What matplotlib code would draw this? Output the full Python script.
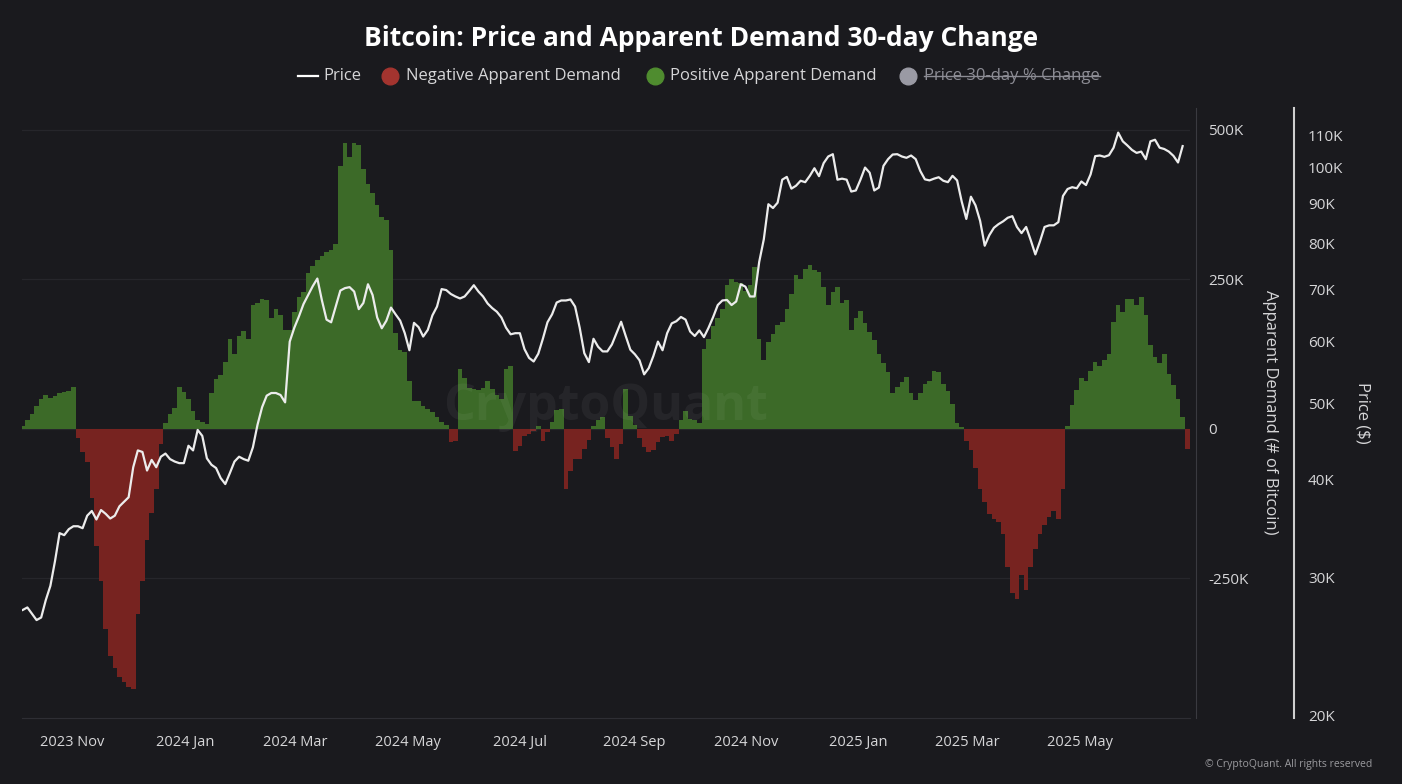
import numpy as np
import pandas as pd
import matplotlib
matplotlib.use('Agg')
import matplotlib.pyplot as plt
from matplotlib.lines import Line2D
from matplotlib.ticker import NullLocator
import matplotlib.dates as mdates

plt.rcParams['font.family'] = ['Open Sans', 'DejaVu Sans']

# ---- data, every 2.5 days from 2023-10-05 ----
start_date = '2023-10-05'
# BTC price, $K
price_k = [27.3, 27.5, 27.0, 26.5, 26.7, 28.1, 29.3, 31.5, 34.2, 34.0,
           34.6, 34.9, 34.9, 34.7, 36.0, 36.5, 35.6, 36.6, 36.2, 35.7,
           36.0, 37.0, 37.5, 38.0, 41.5, 43.6, 43.4, 41.1, 42.4, 41.5,
           42.8, 43.2, 42.5, 42.2, 42.0, 42.0, 44.2, 43.6, 46.3, 45.5,
           42.6, 41.8, 41.4, 40.2, 39.5, 40.8, 42.2, 42.8, 42.5, 42.3,
           44.0, 47.0, 49.5, 51.2, 51.6, 51.6, 51.3, 50.2, 60.0, 62.5,
           64.6, 67.0, 68.8, 70.6, 72.2, 67.7, 64.0, 63.5, 66.5, 69.7,
           70.2, 70.4, 69.5, 66.0, 67.2, 71.0, 68.8, 64.4, 62.4, 63.8,
           66.3, 65.0, 63.8, 61.5, 58.5, 63.4, 62.6, 60.9, 62.1, 64.8,
           66.5, 70.0, 69.8, 69.0, 68.5, 68.1, 68.5, 69.6, 70.8, 69.5,
           68.5, 67.1, 66.2, 65.5, 64.4, 62.5, 61.3, 61.5, 61.5, 58.7,
           57.2, 56.6, 57.9, 60.5, 63.5, 65.0, 67.3, 67.7, 67.7, 67.9,
           66.5, 62.5, 58.0, 56.5, 60.5, 59.1, 58.3, 58.3, 59.5, 61.5,
           63.6, 61.0, 58.6, 57.8, 56.8, 54.5, 55.5, 57.5, 60.0, 58.5,
           61.5, 63.3, 63.7, 64.5, 64.0, 61.8, 61.0, 62.0, 60.8, 62.5,
           64.5, 66.8, 67.7, 67.8, 66.8, 67.5, 71.0, 70.5, 68.5, 68.5,
           75.8, 81.0, 89.8, 88.8, 90.2, 96.5, 97.3, 94.0, 94.8, 96.2,
           95.8, 97.6, 99.8, 97.5, 101.3, 103.3, 104.0, 96.5, 96.8, 96.5,
           93.2, 93.5, 96.5, 100.0, 98.5, 93.5, 94.3, 100.5, 102.5, 103.9,
           104.0, 103.3, 102.9, 103.6, 102.5, 99.0, 96.6, 96.3, 96.8, 97.2,
           96.2, 95.8, 97.6, 96.3, 90.5, 86.0, 91.8, 89.5, 85.5, 79.5,
           82.0, 83.8, 84.7, 85.4, 86.3, 86.7, 84.0, 82.5, 84.0, 80.8,
           77.5, 80.5, 84.0, 84.4, 84.4, 85.2, 92.0, 93.9, 94.4, 94.1,
           96.0, 95.0, 98.0, 103.4, 103.6, 103.2, 103.7, 106.0, 110.8, 108.0,
           106.7, 105.3, 104.4, 104.8, 102.5, 108.0, 108.5, 106.0, 105.6, 104.8,
           103.5, 101.5, 106.5]
# apparent demand 30-day change, K BTC
demand_k = [5, 15, 25, 38, 50, 57, 52, 55, 60, 62,
            64, 70, -15, -38, -55, -115, -195, -255, -335, -380,
            -400, -414, -423, -432, -435, -310, -255, -185, -140, -100,
            -25, 10, 25, 35, 70, 61, 50, 30, 15, 12,
            9, 60, 84, 90, 112, 150, 125, 155, 163, 150,
            207, 210, 218, 215, 186, 200, 190, 165, 165, 195,
            220, 229, 260, 272, 282, 289, 296, 300, 310, 440,
            478, 455, 478, 475, 435, 410, 395, 375, 355, 350,
            300, 160, 132, 128, 80, 47, 46, 38, 33, 28,
            20, 11, 7, -22, -20, 100, 85, 69, 66, 65,
            68, 80, 67, 56, 50, 100, 105, -37, -28, -11,
            -8, -3, 5, -20, -5, 11, 32, 34, -100, -70,
            -51, -51, -34, -18, 5, 15, 20, -15, -30, -50,
            -25, 67, 22, 6, -15, -30, -38, -35, -22, -14,
            -11, -20, -8, 15, 30, 16, 15, 10, 134, 150,
            172, 185, 200, 240, 250, 245, 244, 230, 240, 270,
            150, 115, 145, 158, 174, 179, 200, 225, 257, 251,
            268, 274, 266, 262, 238, 207, 229, 238, 210, 215,
            165, 185, 198, 178, 162, 148, 125, 110, 95, 60,
            70, 78, 87, 60, 48, 60, 75, 80, 97, 95,
            76, 63, 42, 10, 4, -20, -36, -65, -101, -122,
            -143, -150, -155, -175, -230, -274, -285, -245, -270, -230,
            -200, -175, -160, -147, -137, -150, -100, 5, 40, 65,
            85, 80, 97, 112, 106, 115, 125, 179, 207, 195,
            218, 218, 208, 220, 190, 140, 120, 110, 125, 92,
            73, 50, 20, -34]
demand_ticks = [-250, 0, 250, 500]
demand_labels = ['-250K', '0', '250K', '500K']
price_ticks = [20, 30, 40, 50, 60, 70, 80, 90, 100, 110]

price_dates = pd.date_range(start_date, periods=len(price_k), freq='60h')
demand_dates = pd.date_range(start_date, periods=len(demand_k), freq='60h')

bg = '#1a1a1e'
txt = '#d6d6d8'
green = '#3c6a28'
red = '#772320'
W, H = 1402, 784

fig = plt.figure(figsize=(W / 100, H / 100), dpi=100, facecolor=bg)
ax = fig.add_axes([22 / W, 1 - 718 / H, (1190 - 22) / W, (718 - 108) / H])
ax.set_facecolor(bg)

cols = [green if v >= 0 else red for v in demand_k]
ax.bar(demand_dates, demand_k, width=2.5, color=cols, linewidth=0, zorder=2)

ax.set_ylim(-483.3, 536.7)
ax.set_xlim(pd.Timestamp('2023-10-04 14:00'), pd.Timestamp('2025-06-30'))
for v in demand_ticks:
    ax.axhline(v, color='#26262b', lw=0.9, zorder=1)

ax.xaxis.set_major_locator(mdates.MonthLocator(bymonth=[1, 3, 5, 7, 9, 11]))
ax.xaxis.set_major_formatter(mdates.DateFormatter('%Y %b'))
ax.tick_params(axis='x', length=0, pad=12, labelcolor=txt, labelsize=10.5)

# price on log axis
ax2 = ax.twinx()
ax2.plot(price_dates, price_k, color='#ececec', lw=1.6, zorder=3)
ax2.set_yscale('log')
ax2.set_ylim(19.88, 119.1)
ax2.yaxis.set_minor_locator(NullLocator())
ax2.set_yticks(price_ticks)
ax2.set_yticklabels([f'{v}K' for v in price_ticks])
ax2.tick_params(axis='y', length=0, pad=10, labelcolor=txt, labelsize=11)
ax2.spines['right'].set_position(('axes', (1294 - 22) / (1190 - 22)))
ax2.spines['right'].set_color('#cfcfcf')
ax2.spines['right'].set_linewidth(1.5)
for s in ['left', 'top', 'bottom']:
    ax2.spines[s].set_visible(False)

# demand ticks on the right (after twinx, which moves them left)
ax.yaxis.tick_right()
ax.set_yticks(demand_ticks)
ax.set_yticklabels(demand_labels)
ax.tick_params(axis='y', length=0, pad=9, labelcolor=txt, labelsize=11)
ax.spines['right'].set_position(('axes', (1196 - 22) / (1190 - 22)))
ax.spines['right'].set_color('#3a3a40')
ax.spines['bottom'].set_color('#2e2e34')
ax.spines['left'].set_visible(False)
ax.spines['top'].set_visible(False)

ax2.text(0.5, 0.51, 'CryptoQuant', transform=ax2.transAxes, fontsize=36,
         color='white', alpha=0.05, ha='center', va='center', fontweight='bold')

fig.text(1270 / W, 1 - 412 / H, 'Apparent Demand (# of Bitcoin)', rotation=270,
         ha='center', va='center', color=txt, fontsize=12)
fig.text(1362 / W, 1 - 413 / H, 'Price ($)', rotation=270,
         ha='center', va='center', color=txt, fontsize=12)

fig.text(701 / W, 1 - 38 / H, 'Bitcoin: Price and Apparent Demand 30-day Change',
         ha='center', va='center', color='white', fontsize=19, fontweight='bold')

# legend row
ly = 1 - 76 / H
fig.add_artist(Line2D([298 / W, 318 / W], [ly, ly], color='white', lw=1.6,
                      transform=fig.transFigure))
fig.text(323 / W, ly, 'Price', color=txt, fontsize=12, va='center')
fig.add_artist(Line2D([390 / W], [ly], marker='o', ms=12, color='#a3342f', lw=0,
                      transform=fig.transFigure))
fig.text(406 / W, ly, 'Negative Apparent Demand', color=txt, fontsize=12, va='center')
fig.add_artist(Line2D([655 / W], [ly], marker='o', ms=12, color='#4f8c2f', lw=0,
                      transform=fig.transFigure))
fig.text(670 / W, ly, 'Positive Apparent Demand', color=txt, fontsize=12, va='center')
fig.add_artist(Line2D([908 / W], [ly], marker='o', ms=12, color='#9a9aa4', lw=0,
                      transform=fig.transFigure))
t_off = fig.text(924 / W, ly, 'Price 30-day % Change', color='#8c8c94', fontsize=12, va='center')

fig.text(1372 / W, 1 - 765 / H, '© CryptoQuant. All rights reserved', ha='right',
         va='center', color='#9a9a9e', fontsize=7.5)

fig.canvas.draw()
bb = t_off.get_window_extent().transformed(fig.transFigure.inverted())
fig.add_artist(Line2D([bb.x0, bb.x1], [ly, ly], color='#8c8c94', lw=1.0,
                      transform=fig.transFigure))

fig.savefig('out.png', dpi=100, facecolor=bg)
